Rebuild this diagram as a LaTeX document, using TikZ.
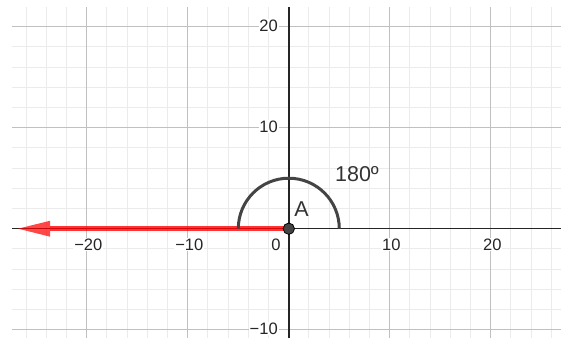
\documentclass[tikz,border=0pt]{standalone}
\usepackage{fontspec}
\setmainfont{Liberation Sans}
\definecolor{majorgrid}{HTML}{C0C0C0}
\definecolor{minorgrid}{HTML}{EBEBEB}
\definecolor{axiscol}{HTML}{252525}
\definecolor{arccol}{HTML}{444444}
\begin{document}
\begin{tikzpicture}[x=7.575pt,y=7.575pt,
  minorline/.style={draw=minorgrid,line width=0.75pt},
  majorline/.style={draw=majorgrid,line width=0.8pt},
  axisline/.style={draw=axiscol,line width=1.1pt},
  ticklabel/.style={fill=white,inner sep=0.6pt,font=\fontsize{12.4}{14}\selectfont,text=black!85},
  biglabel/.style={inner sep=0pt,font=\fontsize{16.1}{18}\selectfont,text=black!80}]
\useasboundingbox (-28.594,-10.822) rectangle (26.951,22.644);
% minor grid
\foreach \x in {-26,-24,...,26} \draw[minorline] (\x,-10.822) -- (\x,21.95);
\foreach \y in {-10,-8,...,20} \draw[minorline] (-27.4,\y) -- (26.951,\y);
% major grid
\foreach \x in {-20,-10,10,20} \draw[majorline] (\x,-10.822) -- (\x,21.95);
\foreach \y in {-10,10,20} \draw[majorline] (-27.4,\y) -- (26.951,\y);
% axes
\coordinate (O) at (0,0);
\coordinate (xl) at (-27.4,0);
\coordinate (xr) at (26.951,0);
\coordinate (yt) at (0,21.95);
\coordinate (yb) at (0,-10.822);
\draw[axisline] (xl) -- (xr);
\draw[axisline] (yb) -- (yt);
% tick labels
\foreach \x/\t in {-20/−20,-10/−10,10/10,20/20}
  \node[ticklabel] (xt\x) at (\x+0.15,-1.56) {\t};
\node[ticklabel] (x0) at (-1.27,-1.56) {0};
\foreach \y/\t in {20/20,10/10,-10/−10}
  \node[ticklabel,anchor=east] (yt\y) at (-0.99,\y+0.1) {\t};
% red ray with arrowhead
\coordinate (tip) at (-26.8,0);
\coordinate (base) at (-23.63,0);
\draw[red,opacity=0.8,line width=3.4pt] (O) -- (base);
\fill[red,opacity=0.72] (tip) -- (-23.63,0.79) -- (-23.63,-0.79) -- cycle;
% angle arc
\draw[arccol,line width=2.25pt] (5,0) arc (0:180:5);
% point A
\node[circle,fill=arccol,draw=black,line width=0.6pt,minimum size=8.5pt,inner sep=0pt] (A) at (O) {};
\node[biglabel] (Alabel) at (1.26,1.9) {A};
\node[biglabel] (ang) at (6.75,5.42) {180º};
\end{tikzpicture}
\end{document}
